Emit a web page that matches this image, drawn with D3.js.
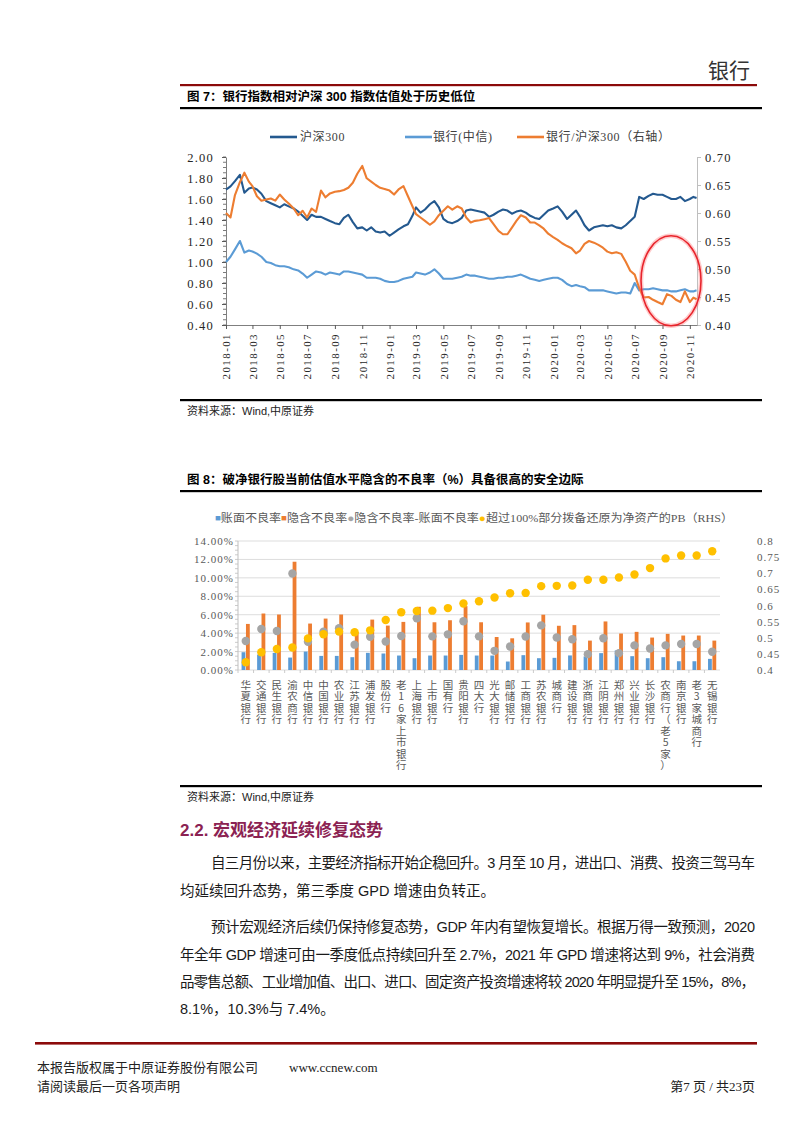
<!DOCTYPE html>
<html><head><meta charset="utf-8">
<script src="https://cdn.jsdelivr.net/npm/d3@7"></script>
<style>
html,body{margin:0;padding:0;background:#fff;}
svg{display:block;}
</style></head><body>
<svg id="page" width="793" height="1122"></svg>
<script>
// ---------------- DATA ----------------
// Figure 7 sample dates
const lineDates = [
"2018-01-01","2018-01-11","2018-01-21","2018-02-01","2018-02-11","2018-02-21","2018-03-01","2018-03-11","2018-03-21","2018-04-01","2018-04-11","2018-04-21",
"2018-05-01","2018-05-11","2018-05-21","2018-06-01","2018-06-11","2018-06-21","2018-07-01","2018-07-11","2018-07-21","2018-08-01","2018-08-11","2018-08-21",
"2018-09-01","2018-09-11","2018-09-21","2018-10-01","2018-10-11","2018-10-21","2018-11-01","2018-11-11","2018-11-21","2018-12-01","2018-12-11","2018-12-21",
"2019-01-01","2019-01-11","2019-01-21","2019-02-01","2019-02-11","2019-02-21","2019-03-01","2019-03-11","2019-03-21","2019-04-01","2019-04-11","2019-04-21",
"2019-05-01","2019-05-11","2019-05-21","2019-06-01","2019-06-11","2019-06-21","2019-07-01","2019-07-11","2019-07-21","2019-08-01","2019-08-11","2019-08-21",
"2019-09-01","2019-09-11","2019-09-21","2019-10-01","2019-10-11","2019-10-21","2019-11-01","2019-11-11","2019-11-21","2019-12-01","2019-12-11","2019-12-21",
"2020-01-01","2020-01-11","2020-01-21","2020-02-01","2020-02-11","2020-02-21","2020-03-01","2020-03-11","2020-03-21","2020-04-01","2020-04-11","2020-04-21",
"2020-05-01","2020-05-11","2020-05-21","2020-06-01","2020-06-11","2020-06-21","2020-07-01","2020-07-11","2020-07-21","2020-08-01","2020-08-11","2020-08-21",
"2020-09-01","2020-09-11","2020-09-21","2020-10-01","2020-10-11","2020-10-21","2020-11-01","2020-11-09","2020-11-16"];
// 沪深300 (left axis)
const hs300 = [
1.69,1.72,1.77,1.83,1.66,1.70,1.71,1.69,1.65,1.58,1.56,1.54,
1.52,1.55,1.53,1.51,1.48,1.44,1.40,1.45,1.43,1.43,1.41,1.39,
1.37,1.36,1.42,1.45,1.38,1.32,1.33,1.30,1.33,1.29,1.28,1.29,
1.25,1.28,1.31,1.34,1.36,1.44,1.52,1.47,1.50,1.55,1.58,1.52,
1.41,1.38,1.37,1.39,1.42,1.49,1.50,1.49,1.48,1.47,1.43,1.45,
1.48,1.50,1.49,1.46,1.48,1.49,1.47,1.44,1.42,1.41,1.45,1.49,
1.51,1.53,1.48,1.41,1.45,1.49,1.43,1.35,1.30,1.33,1.34,1.35,
1.34,1.35,1.33,1.32,1.35,1.39,1.43,1.62,1.60,1.63,1.65,1.64,
1.64,1.62,1.60,1.60,1.62,1.58,1.60,1.62,1.61];
// 银行(中信) (left axis)
const bankCiti = [
1.00,1.05,1.12,1.20,1.09,1.11,1.10,1.08,1.05,1.00,0.99,0.97,
0.96,0.96,0.95,0.93,0.92,0.89,0.85,0.88,0.91,0.90,0.88,0.90,
0.89,0.88,0.91,0.91,0.90,0.89,0.88,0.85,0.85,0.85,0.84,0.82,
0.81,0.81,0.82,0.84,0.85,0.86,0.90,0.89,0.88,0.90,0.93,0.89,
0.84,0.84,0.84,0.85,0.86,0.88,0.87,0.87,0.86,0.85,0.84,0.84,
0.85,0.85,0.86,0.86,0.87,0.88,0.86,0.84,0.83,0.82,0.83,0.84,
0.85,0.85,0.83,0.79,0.77,0.78,0.77,0.76,0.73,0.73,0.73,0.73,
0.72,0.71,0.70,0.71,0.71,0.70,0.80,0.73,0.74,0.74,0.75,0.74,
0.73,0.73,0.72,0.72,0.73,0.74,0.72,0.72,0.73];
// 银行/沪深300 (right axis)
const bankRatio = [
0.600,0.592,0.632,0.655,0.672,0.656,0.648,0.630,0.622,0.624,0.626,0.622,
0.633,0.624,0.617,0.608,0.596,0.604,0.592,0.608,0.602,0.640,0.628,0.635,
0.638,0.639,0.641,0.645,0.654,0.670,0.684,0.662,0.656,0.650,0.645,0.643,
0.640,0.633,0.642,0.648,0.630,0.612,0.598,0.592,0.586,0.579,0.585,0.596,
0.604,0.612,0.606,0.612,0.608,0.592,0.583,0.586,0.587,0.589,0.591,0.580,
0.568,0.562,0.562,0.574,0.586,0.596,0.592,0.583,0.583,0.578,0.572,0.563,
0.557,0.552,0.546,0.541,0.537,0.528,0.533,0.545,0.550,0.547,0.543,0.538,
0.531,0.528,0.530,0.527,0.513,0.497,0.490,0.466,0.449,0.450,0.445,0.441,
0.437,0.455,0.452,0.445,0.441,0.460,0.441,0.449,0.446];
const leftTicks1 = [0.40,0.60,0.80,1.00,1.20,1.40,1.60,1.80,2.00];
const rightTicks1 = [0.40,0.45,0.50,0.55,0.60,0.65,0.70];
const legend1 = ["沪深300","银行(中信)","银行/沪深300（右轴）"];

// Figure 8
const banks = ["华夏银行","交通银行","民生银行","渝农商行","中信银行","中国银行","农业银行","江苏银行","浦发银行","股份行",
"老16家上市银行","上海银行","上市银行","国有行","贵阳银行","四大行","光大银行","邮储银行","工商银行","苏农银行",
"城商行","建设银行","浙商银行","江阴银行","郑州银行","兴业银行","长沙银行","农商行（老5家）","南京银行","老3家城商行","无锡银行"];
const bookNPL = [1.93,1.68,1.86,1.35,2.00,1.53,1.53,1.39,1.86,1.79,1.57,1.28,1.57,1.57,1.64,1.57,1.57,0.92,1.61,1.28,1.32,1.58,1.47,1.83,2.12,1.50,1.28,1.39,0.95,0.95,1.21];
const impliedNPL = [5.00,6.13,6.02,11.75,5.04,5.58,6.02,4.10,5.47,4.82,5.22,6.86,5.18,5.40,6.93,5.18,3.58,3.44,5.16,6.00,4.80,4.87,3.19,5.27,3.96,4.14,3.52,3.92,3.74,3.74,3.19];
const gapNPL = [3.14,4.45,4.23,10.47,3.07,4.16,4.53,2.75,3.61,3.10,3.69,5.62,3.65,3.87,5.29,3.65,2.08,2.55,3.63,4.84,3.52,3.33,1.72,3.44,1.83,2.67,2.34,2.67,2.82,2.82,1.98];
const adjPB = [0.424,0.455,0.465,0.470,0.498,0.511,0.519,0.517,0.523,0.555,0.579,0.583,0.584,0.592,0.606,0.613,0.625,0.638,0.639,0.660,0.661,0.662,0.680,0.680,0.687,0.696,0.716,0.746,0.755,0.755,0.768];
const leftTicks2 = [0,2,4,6,8,10,12,14];
const rightTicks2 = [0.40,0.45,0.50,0.55,0.60,0.65,0.70,0.75,0.80];
const legend2 = ["账面不良率","隐含不良率","隐含不良率-账面不良率","超过100%部分拨备还原为净资产的PB（RHS）"];

// Text
const bodyLines = [
 "自三月份以来，主要经济指标开始企稳回升。3 月至 10 月，进出口、消费、投资三驾马车",
 "均延续回升态势，第三季度 GPD 增速由负转正。",
 "预计宏观经济后续仍保持修复态势，GDP 年内有望恢复增长。根据万得一致预测，2020",
 "年全年 GDP 增速可由一季度低点持续回升至 2.7%，2021 年 GPD 增速将达到 9%，社会消费",
 "品零售总额、工业增加值、出口、进口、固定资产投资增速将较 2020 年明显提升至 15%，8%，",
 "8.1%，10.3%与 7.4%。"];

// ---------------- DRAW ----------------
const svg = d3.select("#page");
const CJK = '"Noto Sans CJK SC", sans-serif';
const SERIF = '"Liberation Serif","Noto Sans CJK SC", serif';
const SANS = '"Liberation Sans","Noto Sans CJK SC", sans-serif';
const DARKRED = "#8B0A0A";

svg.append("rect").attr("width",793).attr("height",1122).attr("fill","#fff");

// header
svg.append("text").attr("x",750).attr("y",78).attr("text-anchor","end")
  .attr("font-family",CJK).attr("font-size",21).attr("fill","#333").text("银行");
svg.append("rect").attr("x",180).attr("y",84).attr("width",577).attr("height",2.2).attr("fill",DARKRED);

function figTitle(txt, y){
  svg.append("text").attr("x",187).attr("y",y).attr("dominant-baseline","central")
    .attr("font-family",SANS).attr("font-weight","bold").attr("font-size",12.5).attr("fill","#000").text(txt);
}
function rule(y){ svg.append("rect").attr("x",180).attr("y",y-1).attr("width",582).attr("height",2.2).attr("fill","#000"); }
function source(y){
  svg.append("text").attr("x",187).attr("y",y).attr("dominant-baseline","central")
    .attr("font-family",SANS).attr("font-size",11).attr("fill","#222").text("资料来源：Wind,中原证券");
}

figTitle("图 7：银行指数相对沪深 300 指数估值处于历史低位", 97);
rule(108);

// ---- Chart 1 ----
const parse = d3.timeParse("%Y-%m-%d");
const dts = lineDates.map(parse);
const x1 = d3.scaleTime().domain([parse("2018-01-01"), parse("2020-11-17")]).range([226, 697]);
const yL = d3.scaleLinear().domain([0.4, 2.0]).range([325, 157]);
const yR = d3.scaleLinear().domain([0.4, 0.7]).range([325, 157]);
const c1 = svg.append("g");

const colHS = "#24598F", colBank = "#5B9BD5", colRatio = "#ED7D31";

const axL = c1.append("g").attr("transform","translate(226,0)")
  .call(d3.axisLeft(yL).tickValues(leftTicks1).tickFormat(d3.format(".2f")).tickSize(4).tickSizeOuter(0));
const axR = c1.append("g").attr("transform","translate(697,0)")
  .call(d3.axisRight(yR).tickValues(rightTicks1).tickFormat(d3.format(".2f")).tickSize(4).tickSizeOuter(0));
const axB = c1.append("g").attr("transform","translate(0,325)")
  .call(d3.axisBottom(x1).ticks(d3.timeMonth.every(2)).tickFormat(d3.timeFormat("%Y-%m")).tickSize(4).tickSizeOuter(0));
c1.append("g").selectAll("line").data(d3.range(0.4, 2.0001, 0.05)).join("line")
  .attr("x1",223).attr("x2",226).attr("y1",d=>yL(d)).attr("y2",d=>yL(d)).attr("stroke","#595959").attr("stroke-width",0.8);

[axL,axR,axB].forEach(a=>{
  a.select(".domain").attr("stroke","#7f7f7f").attr("stroke-width",1);
  a.selectAll(".tick line").attr("stroke","#595959");
  a.selectAll("text").attr("font-family",SERIF).attr("fill","#262626");
});
axR.select(".domain").attr("stroke","#bfbfbf");
axR.selectAll(".tick line").attr("stroke","#bfbfbf");
axL.selectAll("text").attr("font-size",12.5).attr("letter-spacing","1.2px").attr("x",-12);
axR.selectAll("text").attr("font-size",12.5).attr("letter-spacing","1.2px").attr("x",8);
axB.selectAll("text").attr("font-size",11).attr("letter-spacing","1.4px")
  .attr("transform","rotate(-90)").attr("text-anchor","end").attr("dy","0.35em").attr("x",-8).attr("y",0);

function drawLine(vals, scale, color){
  const line = d3.line().x((d,i)=>x1(dts[i])).y(d=>scale(d)).curve(d3.curveLinear);
  c1.append("path").datum(vals).attr("d",line).attr("fill","none")
    .attr("stroke",color).attr("stroke-width",2.1).attr("stroke-linejoin","round");
}
drawLine(hs300, yL, colHS);
drawLine(bankCiti, yL, colBank);
drawLine(bankRatio, yR, colRatio);

// red ellipse annotation
const ex = x1(parse("2020-09-20")), ey = yR(0.479);
c1.append("ellipse").attr("cx",ex).attr("cy",ey).attr("rx",30).attr("ry",45)
  .attr("fill","none").attr("stroke","#FF6B6B").attr("stroke-width",4.5).attr("opacity",0.35);
c1.append("ellipse").attr("cx",ex).attr("cy",ey).attr("rx",30).attr("ry",45)
  .attr("fill","none").attr("stroke","#E8242C").attr("stroke-width",1.6);

// legend 1
const lg1x = [[270,300],[405,433],[517,546]];
const lg1c = [colHS, colBank, colRatio];
legend1.forEach((t,i)=>{
  c1.append("line").attr("x1",lg1x[i][0]).attr("x2",lg1x[i][0]+27).attr("y1",137).attr("y2",137)
    .attr("stroke",lg1c[i]).attr("stroke-width",2.6);
  c1.append("text").attr("x",lg1x[i][1]).attr("y",137).attr("dominant-baseline","central")
    .attr("font-family",SERIF).attr("font-size",12).attr("letter-spacing","0.6px").attr("fill","#404040").text(t);
});

rule(400);
source(411);

// ---- Chart 2 ----
figTitle("图 8：破净银行股当前估值水平隐含的不良率（%）具备很高的安全边际", 480);
rule(491);

const c2 = svg.append("g");
const x2 = d3.scaleBand().domain(banks).range([238, 720]).paddingInner(0).paddingOuter(0);
const y2 = d3.scaleLinear().domain([0, 14]).range([670, 541]);
const y2R = d3.scaleLinear().domain([0.4, 0.8]).range([670, 541]);

c2.append("g").selectAll("line").data(leftTicks2).join("line")
  .attr("x1",238).attr("x2",720).attr("y1",d=>y2(d)).attr("y2",d=>y2(d))
  .attr("stroke","#d9d9d9").attr("stroke-width",0.9);
c2.append("line").attr("x1",238).attr("x2",238).attr("y1",541).attr("y2",670).attr("stroke","#bfbfbf");
c2.append("g").selectAll("line").data(d3.range(0, 14.001, 0.5)).join("line")
  .attr("x1",235).attr("x2",238).attr("y1",d=>y2(d)).attr("y2",d=>y2(d)).attr("stroke","#bfbfbf").attr("stroke-width",0.8);
c2.append("g").selectAll("line").data(banks).join("line")
  .attr("x1",d=>x2(d)).attr("x2",d=>x2(d)).attr("y1",670).attr("y2",673).attr("stroke","#bfbfbf").attr("stroke-width",0.8);

const axL2 = c2.append("g").attr("transform","translate(238,0)")
  .call(d3.axisLeft(y2).tickValues(leftTicks2).tickFormat(d=>d.toFixed(2)+"%").tickSize(0));
axL2.select(".domain").remove();
axL2.selectAll("text").attr("font-family",SERIF).attr("font-size",11).attr("letter-spacing","1px").attr("fill","#595959").attr("x",-4);
const axR2 = c2.append("g").attr("transform","translate(720,0)")
  .call(d3.axisRight(y2R).tickValues(rightTicks2).tickFormat(d=>String(+d.toFixed(2))).tickSize(0));
axR2.select(".domain").remove();
axR2.selectAll("text").attr("font-family",SERIF).attr("font-size",11).attr("letter-spacing","1px").attr("fill","#595959").attr("x",37);

const bw = x2.bandwidth();
const cxOf = d => x2(d) + bw/2;
c2.append("g").selectAll("rect").data(banks).join("rect")
  .attr("x",d=>cxOf(d)-4.2).attr("width",3.8)
  .attr("y",(d,i)=>y2(bookNPL[i])).attr("height",(d,i)=>y2(0)-y2(bookNPL[i])).attr("fill","#5B9BD5");
c2.append("g").selectAll("rect").data(banks).join("rect")
  .attr("x",d=>cxOf(d)+0.2).attr("width",3.8)
  .attr("y",(d,i)=>y2(impliedNPL[i])).attr("height",(d,i)=>y2(0)-y2(impliedNPL[i])).attr("fill","#ED7D31");
c2.append("g").selectAll("circle").data(banks).join("circle")
  .attr("cx",cxOf).attr("cy",(d,i)=>y2(gapNPL[i])).attr("r",4.2).attr("fill","#A5A5A5");
c2.append("g").selectAll("circle").data(banks).join("circle")
  .attr("cx",cxOf).attr("cy",(d,i)=>y2R(adjPB[i])).attr("r",4.2).attr("fill","#FFC000");

// category labels: wrapped one glyph per line, top to bottom
const LFS = 10.5, STEP = 11.5;
const labG = c2.append("g").attr("font-family",CJK).attr("font-size",LFS).attr("fill","#595959");
banks.forEach(b=>{
  const cx = cxOf(b);
  const t = labG.append("text").attr("dominant-baseline","central").attr("text-anchor","middle");
  Array.from(b).forEach((ch,j)=>{
    t.append("tspan").attr("x",cx).attr("y",683.5 + j*STEP).text(ch);
  });
});

// legend 2
const lg2 = svg.append("text").attr("x",215).attr("y",518).attr("dominant-baseline","central")
  .attr("font-family",SERIF).attr("font-size",11.2).attr("fill","#595959");
const lgMarks = [["■","#5B9BD5"],["■","#ED7D31"],["●","#A5A5A5"],["●","#FFC000"]];
legend2.forEach((t,i)=>{
  lg2.append("tspan").attr("fill",lgMarks[i][1]).attr("font-size",i<2?9:11).text(lgMarks[i][0]);
  lg2.append("tspan").text(t);
});
lg2.attr("textLength",518).attr("lengthAdjust","spacingAndGlyphs");

rule(786);
source(797);

// ---- Section text ----
svg.append("text").attr("x",180).attr("y",830).attr("dominant-baseline","central")
  .attr("font-family",SANS).attr("font-weight","bold").attr("font-size",17).attr("fill","#8B2252")
  .text("2.2. 宏观经济延续修复态势");

const bodyY = [863, 891, 927, 955, 982, 1009];
const bodyX = [211, 180, 211, 180, 180, 180];
const justify = [true, false, true, true, true, false];
bodyLines.forEach((t,i)=>{
  const el = svg.append("text").attr("x",bodyX[i]).attr("y",bodyY[i]).attr("dominant-baseline","central")
    .attr("font-family",SANS).attr("font-size",14.5).attr("fill","#1a1a1a").text(t);
  if(justify[i]) el.attr("textLength",755-bodyX[i]).attr("lengthAdjust","spacing");
});

// ---- Footer ----
svg.append("rect").attr("x",35).attr("y",1042).attr("width",722).attr("height",2.6).attr("fill",DARKRED);
const ft = (x,y,t,anchor)=>svg.append("text").attr("x",x).attr("y",y).attr("dominant-baseline","central")
  .attr("text-anchor",anchor||"start").attr("font-family",SERIF).attr("font-size",13).attr("fill","#222").text(t);
ft(37,1067,"本报告版权属于中原证券股份有限公司");
ft(289,1067,"www.ccnew.com");
ft(37,1086,"请阅读最后一页各项声明");
ft(755,1086,"第7 页 / 共23页","end");
</script>
</body></html>
